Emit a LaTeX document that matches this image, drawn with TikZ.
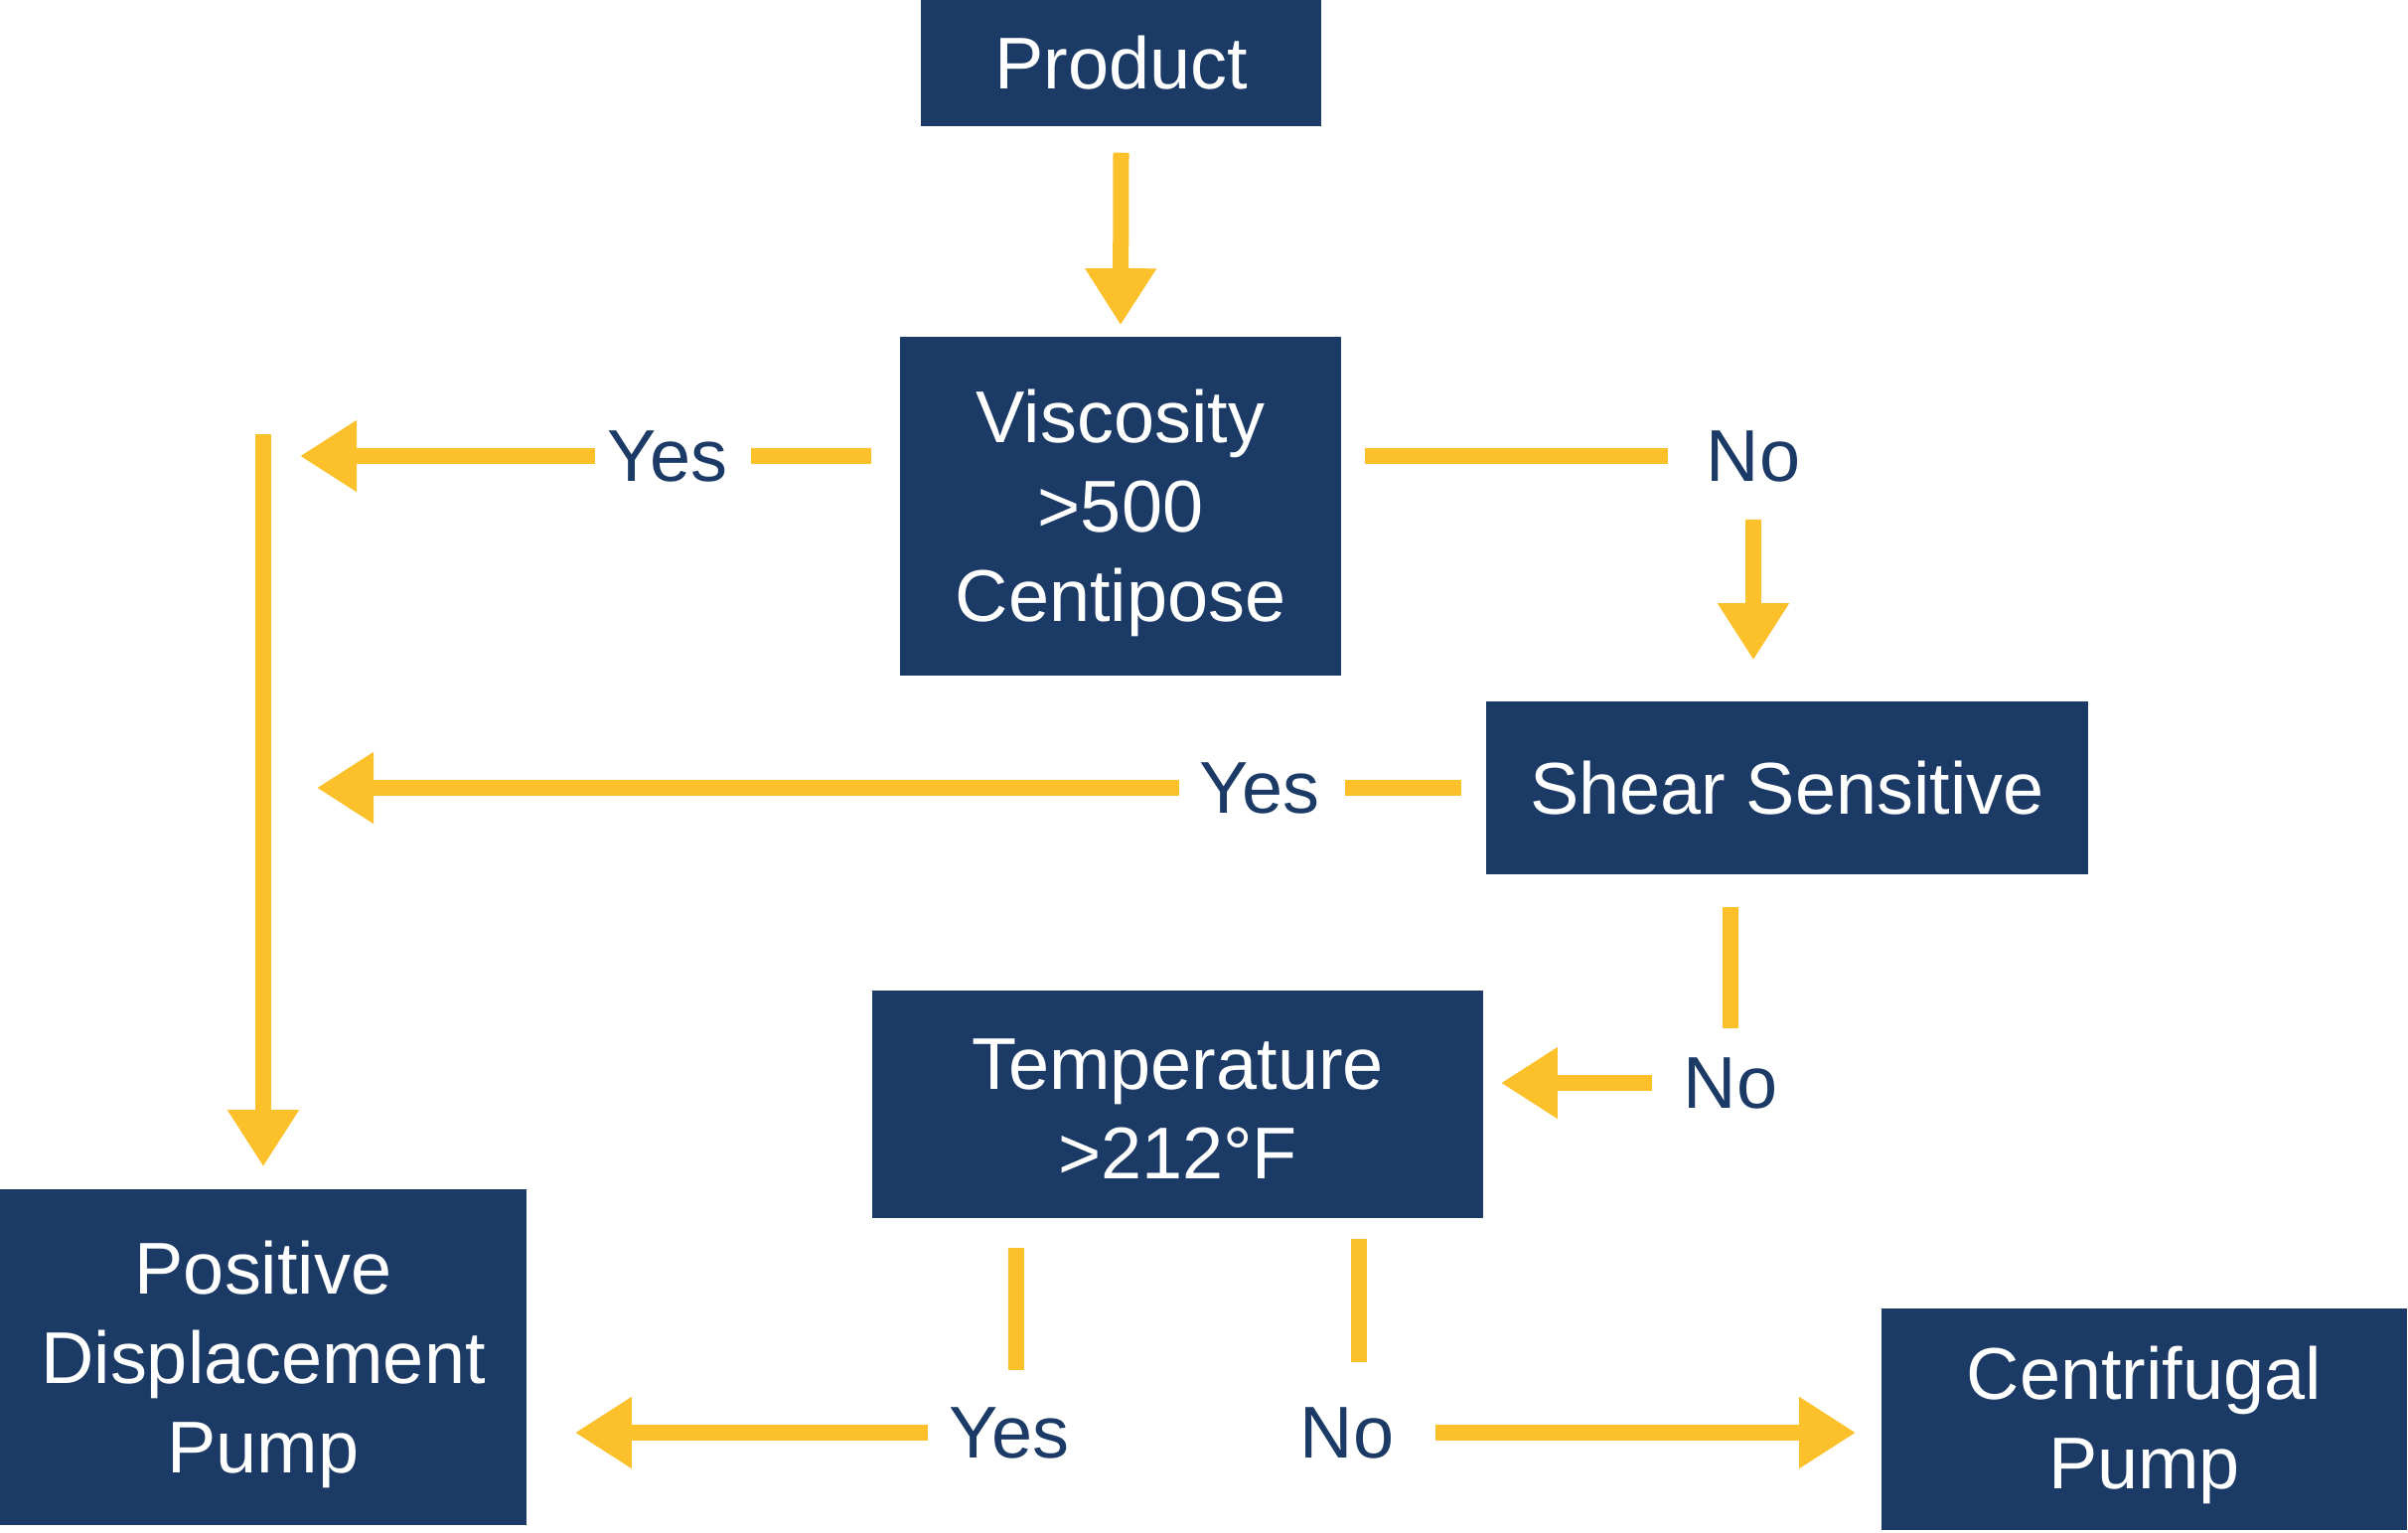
\documentclass[tikz,border=0pt]{standalone}
\usepackage{fontspec}
\setmainfont{Liberation Sans}
\usetikzlibrary{arrows.meta,calc}
\definecolor{navy}{HTML}{1B3A66}
\definecolor{gold}{HTML}{FCC02A}
\newcommand{\topstrut}[1]{\rule{0pt}{#1}}
\begin{document}
\begin{tikzpicture}[x=0.01cm,y=-0.01cm,
  box/.style={fill=navy,text=white,draw=none,inner sep=0pt,align=center,font=\fontsize{21}{25.6}\selectfont},
  lbl/.style={text=navy,inner sep=0pt,font=\fontsize{21}{25.6}\selectfont},
  seg/.style={draw=gold,line width=0.16cm},
  arr/.style={seg,-{Triangle[width=0.68cm,length=0.57cm]}}]
\useasboundingbox[fill=white] (0,0) rectangle (2424,1542);

% boxes
\node[box,minimum width=4.03cm,minimum height=1.27cm] (prod) at (1128.5,63.5) {Product};
\node[box,minimum width=4.44cm,minimum height=3.41cm] (visc) at (1128,509.5) {\topstrut{0.68cm}Viscosity\\>500\\Centipose};
\node[box,minimum width=6.06cm,minimum height=1.74cm] (shear) at (1799,793) {Shear Sensitive};
\node[box,minimum width=6.15cm,minimum height=2.29cm] (temp) at (1185.5,1111.5) {\topstrut{0.60cm}Temperature\\>212°F};
\node[box,minimum width=5.30cm,minimum height=3.38cm] (pdp) at (265,1366) {\topstrut{0.68cm}Positive\\Displacement\\Pump};
\node[box,minimum width=5.29cm,minimum height=2.23cm] (cent) at (2158.5,1428.5) {\topstrut{0.65cm}Centrifugal\\Pump};

% labels
\node[lbl] (yes1) at (672,459) {Yes};
\node[lbl] (no1) at (1765,459) {No};
\node[lbl] (yes2) at (1268,793) {Yes};
\node[lbl] (no2) at (1742,1090) {No};
\node[lbl] (yes3) at (1016,1442) {Yes};
\node[lbl] (no3) at (1356,1442) {No};

% connectors
\draw[arr] ($(prod.south)+(0,26)$) -- ($(visc.north)+(0,-11)$);
\draw[seg] ($(visc.west |- yes1)+(-28,0)$) -- ($(yes1.east)+(23,0)$);
\draw[arr] ($(yes1.west)+(-12,0)$) -- ($(pdp.north |- yes1)+(37,0)$);
\draw[arr] ($(pdp.north |- yes1)+(0,-22)$) -- ($(pdp.north)+(0,-22)$);
\draw[seg] ($(visc.east |- no1)+(23,0)$) -- ($(no1.west)+(-38,0)$);
\draw[arr] ($(no1.south)+(0,38)$) -- ($(no1.south |- shear.north)+(0,-41)$);
\draw[seg] ($(shear.west)+(-24,0)$) -- ($(yes2.east)+(25,0)$);
\draw[arr] ($(yes2.west)+(-20,0)$) -- ($(pdp.north |- yes2)+(54,0)$);
\draw[seg] ($(shear.south -| no2)+(0,32)$) -- ($(no2.north)+(0,-29)$);
\draw[arr] ($(no2.west)+(-31,0)$) -- ($(temp.east |- no2)+(17,0)$);
\draw[seg] ($(temp.south -| yes3)+(7,29)$) -- ($(yes3.north)+(7,-37)$);
\draw[arr] ($(yes3.west)+(-21,0)$) -- ($(pdp.east |- yes3)+(48,0)$);
\draw[seg] ($(temp.south -| no3)+(12,20)$) -- ($(no3.north)+(12,-45)$);
\draw[arr] ($(no3.east)+(41,0)$) -- ($(cent.west |- no3)+(-25,0)$);
\end{tikzpicture}
\end{document}
